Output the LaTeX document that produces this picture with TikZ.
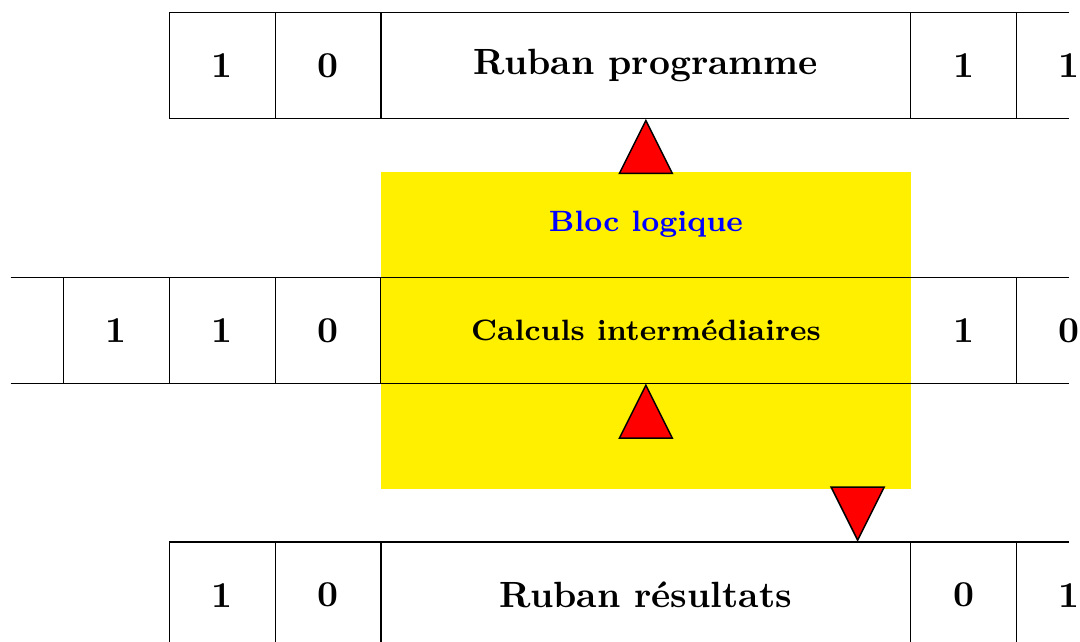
\documentclass[tikz,border=0pt]{standalone}
\usepackage{tikz}
\usetikzlibrary{positioning,shapes.geometric}
\definecolor{jaune}{RGB}{255,240,0}

\begin{document}
\begin{tikzpicture}[node distance=0pt,
  case/.style={minimum width=1cm,minimum height=1cm,inner sep=0pt,outer sep=0pt,
    font=\fontsize{9.8}{12}\selectfont\bfseries},
  casel/.style={case,minimum width=5cm},
  tete/.style={isosceles triangle,isosceles triangle stretches,draw,fill=red,
    minimum width=0.5cm,minimum height=0.5cm,inner sep=0pt},
  texte/.style={font=\fontsize{7.9}{10}\selectfont\bfseries}]
  \useasboundingbox (-1.6,0.066) rectangle (8.6,6.12);

  % ruban programme
  \node[case,draw] (p1) at (0.5,5.5) {1};
  \node[case,draw] (p2) [right=of p1] {0};
  \node[casel,draw] (p3) [right=of p2] {Ruban programme};
  \node[case,draw] (p4) [right=of p3] {1};
  \node[case] (p5) [right=of p4] {1};
  \draw (p4.north east) -- (p5.north) (p4.south east) -- (p5.south);

  % ruban resultats
  \node[case,draw] (r1) at (0.5,0.5) {1};
  \node[case,draw] (r2) [right=of r1] {0};
  \node[casel,draw] (r3) [right=of r2] {Ruban résultats};
  \node[case,draw] (r4) [right=of r3] {0};
  \node[case] (r5) [right=of r4] {1};
  \draw (r4.north east) -- (r5.north) (r4.south east) -- (r5.south);

  % ruban de travail
  \node[case] (m0) at (-1.5,3) {};
  \node[case,draw] (m1) at (-0.5,3) {1};
  \node[case,draw] (m2) [right=of m1] {1};
  \node[case,draw] (m3) [right=of m2] {0};
  \node[casel] (m4) [right=of m3] {};
  \node[case,draw] (m5) [right=of m4] {1};
  \node[case] (m6) [right=of m5] {0};

  % bloc logique
  \node[fill=jaune,minimum width=5cm,minimum height=3cm,inner sep=0pt] (bloc) at (4.5,3) {};
  \node[texte,text=blue] (titre) at (4.5,4) {Bloc logique};
  \node[texte] (calc) at (m4) {Calculs intermédiaires};
  \draw (m0.north) -- (m6.north) (m0.south) -- (m6.south);

  % tetes de lecture
  \node[tete,shape border rotate=90,anchor=apex] (t1) at (p3.south) {};
  \node[tete,shape border rotate=90,anchor=apex] (t2) at (m4.south) {};
  \node[tete,shape border rotate=-90,anchor=apex] (t3) at (r3.north -| 6.5,0) {};
\end{tikzpicture}
\end{document}
